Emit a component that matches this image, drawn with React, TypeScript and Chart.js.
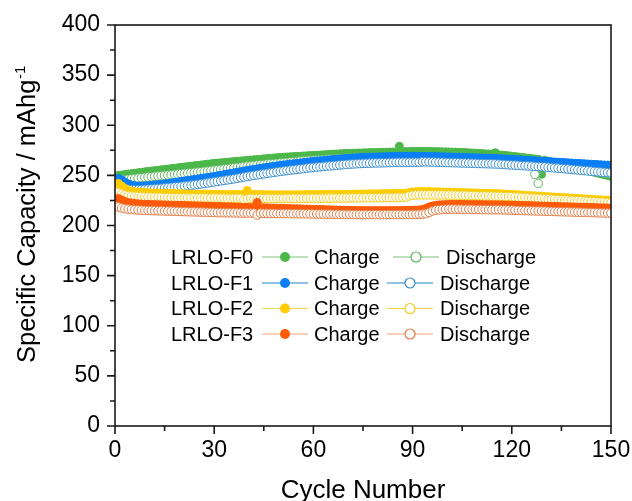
import React, { useEffect, useRef } from 'react';
import { Chart, registerables } from 'chart.js';

Chart.register(...registerables);

const FONT = '"Liberation Sans", Arial, Helvetica, sans-serif';

// x categories: cycle numbers 1..150
const cycles = Array.from({ length: 150 }, (_, i) => i + 1);

const seriesNames = ['LRLO-F0', 'LRLO-F1', 'LRLO-F2', 'LRLO-F3'];
const yTicks = [0, 50, 100, 150, 200, 250, 300, 350, 400];
const xTicks = [0, 30, 60, 90, 120, 150];

const f0Charge = [
  250, 250.4, 250.9, 251.4, 251.8, 252.2, 252.7, 253.1, 253.5, 254,
  254.4, 254.8, 255.2, 255.6, 256, 256.4, 256.8, 257.2, 257.6, 258,
  258.4, 258.8, 259.2, 259.6, 260, 260.4, 260.8, 261.2, 261.6, 262,
  262.3, 262.6, 262.9, 263.2, 263.5, 263.8, 264.1, 264.4, 264.7, 265,
  265.3, 265.6, 265.9, 266.2, 266.5, 266.8, 267.1, 267.4, 267.7, 268,
  268.2, 268.4, 268.6, 268.8, 269, 269.2, 269.4, 269.6, 269.8, 270,
  270.2, 270.4, 270.6, 270.8, 271, 271.2, 271.4, 271.6, 271.8, 272,
  272.1, 272.2, 272.3, 272.4, 272.5, 272.6, 272.7, 272.8, 272.9, 273,
  273.1, 273.2, 273.3, 273.4, 273.5, 279, 273.6, 273.7, 273.8, 274,
  274, 274, 274, 274, 274, 273.9, 273.8, 273.7, 273.6, 273.5,
  273.4, 273.3, 273.2, 273.1, 273, 272.8, 272.6, 272.4, 272.2, 272,
  271.8, 271.6, 271.4, 271.2, 272.6, 270.6, 270.3, 270, 269.6, 269.2,
  268.8, 268.4, 268, 267.6, 267.2, 266.8, 266.4, 266, 251, 265,
  264.2, 263.4, 262.6, 261.8, 261, 260.2, 259.4, 258.6, 257.8, 257,
  256.2, 255.4, 254.6, 253.8, 253, 252.2, 251.4, 250.6, 249.8, 249,
];
const f0Discharge = [
  245, 245.4, 245.8, 246.2, 246.6, 247, 247.3, 247.6, 248, 248.3,
  248.6, 249, 249.3, 249.6, 250, 250.3, 250.6, 251, 251.3, 251.6,
  252, 252.3, 252.6, 253, 253.3, 253.6, 254, 254.4, 254.8, 255.2,
  255.6, 256, 256.4, 256.8, 257.2, 257.6, 258, 258.4, 258.8, 259.2,
  259.6, 260, 260.3, 260.6, 260.9, 261.2, 261.5, 261.8, 262.1, 262.4,
  262.7, 263, 263.3, 263.6, 263.9, 264.2, 264.5, 264.8, 265, 265.2,
  265.4, 265.6, 265.8, 266, 266.2, 266.4, 266.6, 266.8, 267, 267.2,
  267.3, 267.4, 267.5, 267.6, 267.7, 267.8, 267.9, 268, 268, 268.1,
  268.1, 268.1, 268.2, 268.2, 268.2, 268.2, 268.2, 268.2, 268.2, 268.2,
  268.1, 268.1, 268, 267.9, 267.8, 267.7, 267.6, 267.5, 267.4, 267.3,
  267.2, 267.1, 267, 266.9, 266.8, 266.7, 266.6, 266.5, 266.4, 266.3,
  266.2, 266.1, 266, 265.9, 265.8, 265.6, 265.4, 265.2, 265, 264.8,
  264.6, 264.4, 264.2, 264, 263.8, 263.5, 251, 242, 262.6, 262.2,
  261.7, 261.2, 260.7, 260.2, 259.7, 259.2, 258.7, 258.2, 257.7, 257.2,
  256.6, 256, 255.4, 254.8, 254.2, 253.6, 253, 252.5, 252, 251.5,
];
const f1Charge = [
  247, 245.5, 243.2, 241.4, 240.3, 239.7, 239.4, 239.4, 239.5, 239.8,
  240.1, 240.4, 240.8, 241.2, 241.6, 242, 242.5, 243, 243.5, 244,
  244.5, 245, 245.5, 246, 246.5, 247, 247.5, 248, 248.5, 249,
  249.6, 250.2, 250.8, 251.4, 252, 252.6, 253.2, 253.8, 254.4, 255,
  255.5, 256, 256.5, 257, 257.5, 258, 258.5, 259, 259.5, 260,
  260.4, 260.8, 261.2, 261.6, 262, 262.4, 262.8, 263.2, 263.6, 264,
  264.3, 264.6, 264.9, 265.2, 265.5, 265.8, 266.1, 266.4, 266.7, 267,
  267.2, 267.4, 267.6, 267.8, 268, 268.1, 268.2, 268.3, 268.4, 268.5,
  268.6, 268.7, 268.8, 268.9, 269, 269, 269, 269, 269, 269,
  269, 269, 269, 269, 269, 268.9, 268.8, 268.7, 268.6, 268.5,
  268.4, 268.3, 268.2, 268.1, 268, 267.9, 267.8, 267.7, 267.6, 267.5,
  267.4, 267.3, 267.2, 267.1, 267, 266.8, 266.6, 266.4, 266.2, 266,
  265.8, 265.6, 265.4, 265.2, 265, 264.8, 264.6, 264.4, 264.2, 264,
  263.8, 263.6, 263.4, 263.2, 263, 262.8, 262.6, 262.4, 262.2, 262,
  261.8, 261.6, 261.4, 261.2, 261, 260.8, 260.6, 260.4, 260.2, 260,
];
const f1Discharge = [
  238, 237, 236.4, 236, 235.8, 235.7, 235.7, 235.8, 236, 236.2,
  236.4, 236.6, 236.9, 237.2, 237.5, 237.8, 238.1, 238.4, 238.7, 239,
  239.4, 239.8, 240.2, 240.6, 241, 241.5, 242, 242.5, 243, 243.5,
  244, 244.5, 245, 245.5, 246, 246.6, 247.2, 247.8, 248.4, 249,
  249.5, 250, 250.5, 251, 251.5, 252, 252.5, 253, 253.5, 254,
  254.4, 254.8, 255.2, 255.6, 256, 256.4, 256.8, 257.2, 257.6, 258,
  258.3, 258.6, 258.9, 259.2, 259.5, 259.8, 260.1, 260.4, 260.7, 261,
  261.2, 261.4, 261.6, 261.8, 262, 262.1, 262.2, 262.3, 262.4, 262.5,
  262.6, 262.7, 262.8, 262.9, 263, 263, 263, 263, 263, 263,
  263, 263, 263.5, 263.5, 263.4, 263.3, 263.2, 263.1, 263, 262.9,
  262.8, 262.7, 262.6, 262.5, 262.4, 262.3, 262.2, 262.1, 262, 261.9,
  261.8, 261.7, 261.6, 261.5, 261.4, 261.2, 261, 260.8, 260.6, 260.4,
  260.2, 260, 259.8, 259.6, 259.4, 259.2, 259, 258.8, 258.6, 258.4,
  258.1, 257.8, 257.5, 257.2, 256.9, 256.6, 256.3, 256, 255.7, 255.4,
  255.1, 254.8, 254.5, 254.2, 253.9, 253.6, 253.3, 253, 252.8, 252.5,
];
const f2Charge = [
  242, 239.5, 237, 235.2, 234.1, 233.5, 233.2, 233, 232.8, 232.6,
  232.5, 232.4, 232.3, 232.2, 232.1, 232, 232, 231.9, 231.8, 231.7,
  231.6, 231.5, 231.5, 231.4, 231.4, 231.3, 231.3, 231.2, 231.2, 231.1,
  231.1, 231, 231, 231, 231, 231, 231, 231, 230.9, 235,
  230.9, 230.9, 230.8, 230.8, 230.8, 230.7, 230.7, 230.7, 230.7, 230.7,
  230.7, 230.7, 230.7, 230.7, 230.7, 230.7, 230.8, 230.8, 230.8, 230.8,
  230.8, 230.9, 230.9, 231, 231, 231, 231.1, 231.1, 231.2, 231.2,
  231.3, 231.3, 231.4, 231.4, 231.5, 231.5, 231.6, 231.6, 231.7, 231.7,
  231.8, 231.8, 231.9, 231.9, 232, 232, 232, 232.2, 233, 233.5,
  233.7, 233.8, 233.8, 233.8, 233.8, 233.7, 233.7, 233.6, 233.5, 233.4,
  233.3, 233.2, 233.1, 233, 232.9, 232.8, 232.7, 232.6, 232.5, 232.4,
  232.3, 232.2, 232.1, 232, 231.9, 231.8, 231.6, 231.4, 231.2, 231,
  230.8, 230.6, 230.4, 230.2, 230, 229.8, 229.6, 229.4, 229.2, 229,
  228.8, 228.6, 228.4, 228.2, 228, 227.8, 227.6, 227.4, 227.2, 227,
  226.8, 226.6, 226.4, 226.2, 226, 225.8, 225.6, 225.4, 225.2, 225,
];
const f2Discharge = [
  233, 231.5, 230.5, 230, 229.6, 229.3, 229, 228.8, 228.6, 228.5,
  228.4, 228.3, 228.2, 228.1, 228, 228, 227.9, 227.9, 227.8, 227.8,
  227.7, 227.7, 227.6, 227.6, 227.5, 227.5, 227.5, 227.4, 227.4, 227.4,
  227.3, 227.3, 227.3, 227.2, 227.2, 227.2, 227.1, 227.1, 226, 226.6,
  227.1, 227, 227, 227.1, 227, 227, 226.9, 227, 227, 227,
  227, 227.1, 227, 227.1, 227, 227.1, 227.1, 227.1, 227.2, 227.2,
  227.2, 227.2, 227.3, 227.3, 227.3, 227.4, 227.4, 227.4, 227.5, 227.5,
  227.5, 227.6, 227.6, 227.6, 227.7, 227.7, 227.7, 227.8, 227.8, 227.8,
  227.9, 227.9, 228, 228, 228.1, 228.1, 228.2, 228.5, 229.5, 230.2,
  230.5, 230.6, 230.6, 230.6, 230.6, 230.6, 230.5, 230.5, 230.5, 230.4,
  230.4, 230.3, 230.3, 230.2, 230.2, 230.1, 230, 229.9, 229.8, 229.7,
  229.6, 229.5, 229.4, 229.3, 229.2, 229.1, 229, 228.9, 228.8, 228.7,
  228.5, 228.3, 228.1, 227.9, 227.7, 227.5, 227.3, 227.1, 226.9, 226.7,
  226.5, 226.3, 226.1, 225.9, 225.7, 225.5, 225.3, 225.1, 224.9, 224.7,
  224.5, 224.3, 224.1, 223.9, 223.7, 223.5, 223.3, 223.1, 222.9, 222.7,
];
const f3Charge = [
  227, 225.5, 224, 223, 222.4, 222, 221.7, 221.5, 221.3, 221.1,
  221, 220.9, 220.8, 220.7, 220.6, 220.5, 220.4, 220.3, 220.2, 220.1,
  220, 219.9, 219.8, 219.7, 219.6, 219.5, 219.4, 219.3, 219.2, 219.1,
  219, 218.9, 218.8, 218.7, 218.6, 218.5, 218.4, 218.3, 218.2, 218.1,
  218, 217.9, 223, 217.8, 217.7, 217.6, 217.5, 217.4, 217.3, 217.2,
  217.1, 217, 216.9, 216.8, 216.7, 216.6, 216.5, 216.4, 216.3, 216.2,
  216.1, 216, 215.9, 215.8, 215.7, 215.6, 215.5, 215.4, 215.3, 215.2,
  215.1, 215.1, 215, 215, 215, 214.9, 214.9, 214.9, 214.9, 214.9,
  214.9, 214.9, 214.9, 215, 215, 215, 215, 215.1, 215.2, 215.3,
  215.4, 215.6, 216, 217, 218.5, 219.5, 220.2, 220.6, 220.8, 221,
  221, 221.1, 221.1, 221.1, 221.1, 221, 221, 221, 221, 220.9,
  220.9, 220.8, 220.8, 220.7, 220.7, 220.6, 220.6, 220.5, 220.5, 220.4,
  220.3, 220.2, 220.1, 220, 219.9, 219.8, 219.7, 219.6, 219.5, 219.4,
  219.3, 219.2, 219.1, 219, 218.9, 218.8, 218.7, 218.6, 218.5, 218.4,
  218.3, 218.2, 218.1, 218, 217.9, 217.8, 217.7, 217.6, 217.5, 217.4,
];
const f3Discharge = [
  218.5, 217.5, 216.8, 216.3, 216, 215.7, 215.5, 215.3, 215.1, 215,
  214.9, 214.8, 214.7, 214.6, 214.5, 214.4, 214.3, 214.2, 214.1, 214,
  213.9, 213.8, 213.7, 213.6, 213.5, 213.4, 213.3, 213.2, 213.1, 213,
  212.9, 212.8, 212.8, 212.7, 212.7, 212.6, 212.6, 212.5, 212.5, 212.4,
  212.4, 212.3, 210.5, 212.3, 212.2, 212.2, 212.1, 212.1, 212, 212,
  212, 211.9, 211.9, 211.8, 211.8, 211.7, 211.7, 211.6, 211.6, 211.5,
  211.5, 211.4, 211.4, 211.3, 211.3, 211.2, 211.2, 211.1, 211.1, 211,
  211, 211, 210.9, 210.9, 210.9, 210.9, 210.9, 210.9, 210.9, 210.9,
  210.9, 210.9, 210.9, 210.9, 211, 211, 211, 211, 211, 211,
  211.1, 211.2, 211.4, 211.8, 213, 214.5, 215.3, 215.7, 216, 216.2,
  216.3, 216.3, 216.3, 216.3, 216.2, 216.2, 216.1, 216.1, 216, 216,
  215.9, 215.9, 215.8, 215.8, 215.7, 215.7, 215.6, 215.5, 215.4, 215.3,
  215.2, 215.1, 215, 214.9, 214.8, 214.7, 214.6, 214.5, 214.4, 214.3,
  214.2, 214.1, 214, 213.9, 213.8, 213.7, 213.6, 213.5, 213.4, 213.3,
  213.2, 213.1, 213, 212.9, 212.8, 212.7, 212.6, 212.5, 212.4, 212.3,
];

const chargeSeries = [f0Charge, f1Charge, f2Charge, f3Charge];
const dischargeSeries = [f0Discharge, f1Discharge, f2Discharge, f3Discharge];

// styles (kept apart from data)
const styles = [
  { fill: '#4CB84A', stroke: '#5DB55D', line: '#7CC47C', lw: 1 },
  { fill: '#0A7EF5', stroke: '#3A8ED0', line: '#8CC2E6', lw: 2 },
  { fill: '#FFCC00', stroke: '#F0CC1E', line: '#F4D54A', lw: 1 },
  { fill: '#FF5A08', stroke: '#E27A42', line: '#EEA272', lw: 1 },
];

const decorPlugin = {
  id: 'decor',
  afterDatasetsDraw(chart: any) {
    const { ctx, chartArea: a, scales } = chart;
    const xs = scales.x;
    const ys = scales.y;
    ctx.save();
    ctx.strokeStyle = '#1a1a1a';
    ctx.lineWidth = 1.6;
    ctx.strokeRect(a.left, a.top, a.right - a.left, a.bottom - a.top);
    ctx.beginPath();
    yTicks.forEach((v, i) => {
      const py = ys.getPixelForValue(v);
      ctx.moveTo(a.left, py);
      ctx.lineTo(a.left - 8, py);
      if (i < yTicks.length - 1) {
        const pm = ys.getPixelForValue((v + yTicks[i + 1]) / 2);
        ctx.moveTo(a.left, pm);
        ctx.lineTo(a.left - 5, pm);
      }
    });
    xTicks.forEach((v, i) => {
      const px = xs.getPixelForValue(v);
      ctx.moveTo(px, a.bottom);
      ctx.lineTo(px, a.bottom + 8);
      if (i < xTicks.length - 1) {
        const pm = xs.getPixelForValue((v + xTicks[i + 1]) / 2);
        ctx.moveTo(pm, a.bottom);
        ctx.lineTo(pm, a.bottom + 5);
      }
    });
    ctx.stroke();
    ctx.restore();
  },
  afterDraw(chart: any) {
    const { ctx, chartArea: a } = chart;
    ctx.save();
    // axis titles
    ctx.fillStyle = '#000';
    ctx.font = `26px ${FONT}`;
    ctx.textAlign = 'center';
    ctx.textBaseline = 'alphabetic';
    ctx.fillText('Cycle Number', (a.left + a.right) / 2, 498);

    ctx.save();
    ctx.translate(35, 363);
    ctx.rotate(-Math.PI / 2);
    ctx.textAlign = 'left';
    ctx.font = `25.5px ${FONT}`;
    const main = 'Specific Capacity / mAhg';
    ctx.fillText(main, 0, 0);
    const w = ctx.measureText(main).width;
    ctx.font = `15px ${FONT}`;
    ctx.fillText('-1', w + 0.5, -10);
    ctx.restore();

    // legend
    const rows = [257, 283, 308.5, 334];
    ctx.font = `20px ${FONT}`;
    ctx.textBaseline = 'middle';
    ctx.textAlign = 'left';
    seriesNames.forEach((name, i) => {
      const yy = rows[i];
      const st = styles[i];
      ctx.fillStyle = '#000';
      ctx.fillText(name, 171, yy + 1);
      ctx.fillText('Charge', 314, yy + 1);
      const dx = i === 0 ? 6 : 0;
      ctx.fillText('Discharge', 440 + dx, yy + 1);

      ctx.strokeStyle = st.line;
      ctx.lineWidth = st.lw;
      ctx.beginPath();
      ctx.moveTo(262, yy);
      ctx.lineTo(308, yy);
      ctx.moveTo(387 + dx, yy);
      ctx.lineTo(433 + dx, yy);
      ctx.stroke();

      ctx.beginPath();
      ctx.arc(285, yy, 5, 0, Math.PI * 2);
      ctx.fillStyle = st.fill;
      ctx.fill();

      ctx.beginPath();
      ctx.arc(410 + dx, yy, 5, 0, Math.PI * 2);
      ctx.fillStyle = '#fff';
      ctx.fill();
      ctx.strokeStyle = st.stroke;
      ctx.lineWidth = 1.2;
      ctx.stroke();
    });
    ctx.restore();
  },
};

export default function App() {
  const ref = useRef<HTMLCanvasElement | null>(null);

  useEffect(() => {
    if (!ref.current) return;
    const datasets: any[] = [];
    seriesNames.forEach((name, i) => {
      const st = styles[i];
      datasets.push({
        label: `${name} Charge`,
        data: cycles.map((c, k) => ({ x: c, y: chargeSeries[i][k] })),
        borderColor: st.line,
        borderWidth: 1,
        pointRadius: 4,
        pointBackgroundColor: st.fill,
        pointBorderColor: st.fill,
        pointBorderWidth: 1,
        order: 8 - i * 2,
      });
      datasets.push({
        label: `${name} Discharge`,
        data: cycles.map((c, k) => ({ x: c, y: dischargeSeries[i][k] })),
        borderColor: st.line,
        borderWidth: 1,
        pointRadius: 4.3,
        pointBackgroundColor: '#ffffff',
        pointBorderColor: st.stroke,
        pointBorderWidth: 1,
        order: 7 - i * 2,
      });
    });

    const zeroPad = (s: any) => {
      s.paddingLeft = 0;
      s.paddingRight = 0;
      s.paddingTop = 0;
      s.paddingBottom = 0;
    };

    const chart = new Chart(ref.current, {
      type: 'line',
      data: { datasets },
      plugins: [decorPlugin],
      options: {
        responsive: false,
        animation: false,
        events: [],
        layout: { padding: { left: 0, right: 21, top: 25, bottom: 0 } },
        plugins: { legend: { display: false }, tooltip: { enabled: false } },
        scales: {
          x: {
            type: 'linear',
            min: 0,
            max: 150,
            afterFit: (s: any) => { s.height = 75; zeroPad(s); },
            afterBuildTicks: (s: any) => { s.ticks = xTicks.map((v) => ({ value: v })); },
            grid: { display: false, drawTicks: false },
            border: { display: false },
            ticks: { color: '#000', font: { family: FONT, size: 23 }, padding: 11, maxRotation: 0, autoSkip: false },
          },
          y: {
            type: 'linear',
            min: 0,
            max: 400,
            afterFit: (s: any) => { s.width = 115; zeroPad(s); },
            afterBuildTicks: (s: any) => { s.ticks = yTicks.map((v) => ({ value: v })); },
            grid: { display: false, drawTicks: false },
            border: { display: false },
            ticks: { color: '#000', font: { family: FONT, size: 23 }, padding: 15, autoSkip: false },
          },
        },
      },
    });
    return () => chart.destroy();
  }, []);

  return (
    <div style={{ position: 'absolute', left: 0, top: 0, width: 632, height: 501, background: '#fff' }}>
      <canvas ref={ref} width={632} height={501} style={{ display: 'block' }} />
    </div>
  );
}
